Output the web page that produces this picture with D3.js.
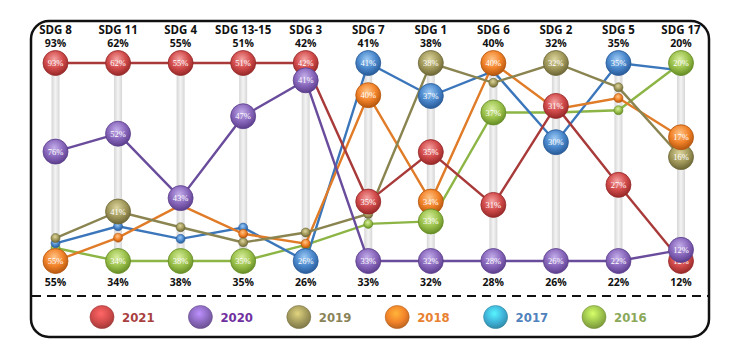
<!DOCTYPE html>
<html>
<head>
<meta charset="utf-8">
<script src="https://cdn.jsdelivr.net/npm/d3@7/dist/d3.min.js"></script>
<style>
  body { margin: 0; background: #fff; }
  svg { display: block; }
  .head { font-family: "Open Sans", sans-serif; font-weight: bold; fill: #111; text-anchor: middle; }
  .val { font-family: "Liberation Serif", serif; fill: #fff; text-anchor: middle; }
  .leg { font-family: "Liberation Sans Narrow", "DejaVu Sans Condensed", sans-serif; font-weight: bold; font-size: 13px; }
</style>
</head>
<body>
<div id="chart"></div>
<script>
var categories = ["SDG 8", "SDG 11", "SDG 4", "SDG 13-15", "SDG 3", "SDG 7", "SDG 1", "SDG 6", "SDG 2", "SDG 5", "SDG 17"];
var years = ["2021", "2020", "2019", "2018", "2017", "2016"];

// share per year and goal (%)
var v2021 = [93, 62, 55, 51, 42, 35.4, 35.3, 31.4, 30.7, 27, 12];
var v2020 = [76, 52, 43.4, 46.7, 40.6, 33, 32, 28, 26, 22, 12.45];
var v2019 = [59.4, 41, 40.9, 36.5, 28.3, 34.9, 38, 38.8, 32, 33.4, 16.2];
var v2018 = [55, 37.3, 42.8, 37.2, 27.4, 39.7, 33.8, 40, 30.6, 32.7, 17];
var v2017 = [58.4, 38.9, 39.9, 37.7, 26, 41, 37, 39.5, 29.6, 35, 19.7];
var v2016 = [57.5, 34, 38, 35, 27.3, 34.5, 33.2, 37, 30.5, 31.9, 20];

// 1 = labelled bubble, 0 = small dot
var lab2021 = [1, 1, 1, 1, 1, 1, 1, 1, 1, 1, 1];
var lab2020 = [1, 1, 1, 1, 1, 1, 1, 1, 1, 1, 1];
var lab2019 = [0, 1, 0, 0, 0, 0, 1, 0, 1, 0, 1];
var lab2018 = [1, 0, 0, 0, 0, 1, 1, 1, 0, 0, 1];
var lab2017 = [0, 0, 0, 0, 1, 1, 1, 0, 1, 1, 0];
var lab2016 = [0, 1, 1, 1, 0, 0, 1, 1, 0, 0, 1];

var W = 744, H = 354,
    TOP = 63, BOTTOM = 261,
    R = 12.5, r = 4.5,
    PCT = function(v) { return d3.format(".0f")(v) + "%"; };

var BASE = ["#d24b4b", "#8a69bd", "#a39a5c", "#f2832a", "#4a88cc", "#9cc24c"],
    EDGE = ["#962828", "#5b3d8c", "#6c6636", "#b4560e", "#285a98", "#658c25"],
    LITE = ["#f5a3a3", "#c4aeea", "#dcd59e", "#ffc68a", "#9fcbf5", "#d8eea0"],
    LINE = ["#a83a3a", "#6a4c9c", "#8a8450", "#e07b28", "#3b76bb", "#8cb545"],
    LEG_FILL = ["#d24b4b", "#8a69bd", "#a39a5c", "#f2832a", "#3fb2d8", "#9cc24c"],
    LEG_TEXT = ["#a84040", "#7030a0", "#8a8358", "#e8802f", "#4f81bd", "#8aa858"];

var values = [v2021, v2020, v2019, v2018, v2017, v2016],
    labels = [lab2021, lab2020, lab2019, lab2018, lab2017, lab2016];

var series = years.map(function(y, i) {
  return {
    year: y, idx: i,
    pts: categories.map(function(c, j) {
      return { cat: c, col: j, v: values[i][j], big: labels[i][j] === 1, idx: i };
    })
  };
});

var x = d3.scalePoint().domain(categories).range([55.5, 681]);

// every goal column has its own scale, min at the bottom, max at the top
var colScale = categories.map(function(c, j) {
  var ext = d3.extent(values, function(s) { return s[j]; });
  return d3.scaleLinear().domain(ext).range([BOTTOM, TOP]);
});
var colExt = categories.map(function(c, j) {
  return d3.extent(values, function(s) { return s[j]; });
});

var svg = d3.select("#chart").append("svg")
  .attr("width", W)
  .attr("height", H);

var defs = svg.append("defs");
years.forEach(function(y, i) {
  var g = defs.append("radialGradient").attr("id", "ball" + i)
    .attr("cx", "45%").attr("cy", "35%").attr("r", "65%");
  g.append("stop").attr("offset", "0%").attr("stop-color", LITE[i]);
  g.append("stop").attr("offset", "55%").attr("stop-color", BASE[i]);
  g.append("stop").attr("offset", "100%").attr("stop-color", EDGE[i]);
  var lg = defs.append("radialGradient").attr("id", "leg" + i)
    .attr("cx", "45%").attr("cy", "35%").attr("r", "65%");
  lg.append("stop").attr("offset", "0%").attr("stop-color", d3.color(LEG_FILL[i]).brighter(0.9));
  lg.append("stop").attr("offset", "60%").attr("stop-color", LEG_FILL[i]);
  lg.append("stop").attr("offset", "100%").attr("stop-color", d3.color(LEG_FILL[i]).darker(0.7));
});
var bar = defs.append("linearGradient").attr("id", "bar");
bar.append("stop").attr("offset", "0%").attr("stop-color", "#d6d6d6");
bar.append("stop").attr("offset", "50%").attr("stop-color", "#f4f4f4");
bar.append("stop").attr("offset", "100%").attr("stop-color", "#d6d6d6");

// frame
svg.append("rect")
  .attr("x", 31).attr("y", 21)
  .attr("width", 678).attr("height", 316)
  .attr("rx", 18)
  .attr("fill", "none")
  .attr("stroke", "#111")
  .attr("stroke-width", 2.5);
svg.append("line")
  .attr("x1", 32).attr("x2", 708)
  .attr("y1", 296).attr("y2", 296)
  .attr("stroke", "#111")
  .attr("stroke-width", 2)
  .attr("stroke-dasharray", "9,6");

// column guides
svg.append("g").selectAll("rect")
  .data(categories)
  .join("rect")
  .attr("x", function(d) { return x(d) - 4; })
  .attr("y", TOP)
  .attr("width", 8)
  .attr("height", BOTTOM - TOP)
  .attr("fill", "url(#bar)");

// headers
var head = svg.append("g");
head.selectAll("text.cat")
  .data(categories)
  .join("text")
  .attr("class", "head cat")
  .attr("x", function(d) { return x(d); })
  .attr("y", 34)
  .attr("font-size", "11.5px")
  .text(function(d) { return d; });
head.selectAll("text.max")
  .data(categories)
  .join("text")
  .attr("class", "head max")
  .attr("x", function(d) { return x(d); })
  .attr("y", 47)
  .attr("font-size", "10.5px")
  .text(function(d, j) { return PCT(colExt[j][1]); });
head.selectAll("text.min")
  .data(categories)
  .join("text")
  .attr("class", "head min")
  .attr("x", function(d) { return x(d); })
  .attr("y", 286)
  .attr("font-size", "10.5px")
  .text(function(d, j) { return PCT(colExt[j][0]); });

// lines
var line = d3.line()
  .x(function(p) { return x(p.cat); })
  .y(function(p) { return colScale[p.col](p.v); });

svg.append("g").selectAll("path")
  .data(series.slice().reverse())
  .join("path")
  .attr("d", function(s) { return line(s.pts); })
  .attr("fill", "none")
  .attr("stroke", function(s) { return LINE[s.idx]; })
  .attr("stroke-width", 2.4);

// small dots
var allPts = d3.merge(series.slice().reverse().map(function(s) { return s.pts; }));
svg.append("g").selectAll("circle")
  .data(allPts.filter(function(p) { return !p.big; }))
  .join("circle")
  .attr("cx", function(p) { return x(p.cat); })
  .attr("cy", function(p) { return colScale[p.col](p.v); })
  .attr("r", r)
  .attr("fill", function(p) { return "url(#ball" + p.idx + ")"; })
  .attr("stroke", function(p) { return EDGE[p.idx]; })
  .attr("stroke-width", 0.6);

// labelled bubbles
var bigPts = d3.merge(series.map(function(s) { return s.pts; })).filter(function(p) { return p.big; });
var bubble = svg.append("g").selectAll("g")
  .data(bigPts)
  .join("g")
  .attr("transform", function(p) { return "translate(" + x(p.cat) + "," + colScale[p.col](p.v) + ")"; });
bubble.append("circle")
  .attr("r", R)
  .attr("fill", function(p) { return "url(#ball" + p.idx + ")"; })
  .attr("stroke", function(p) { return EDGE[p.idx]; })
  .attr("stroke-width", 0.8);
bubble.append("text")
  .attr("class", "val")
  .attr("y", 3)
  .attr("font-size", "8.5px")
  .text(function(p) { return PCT(p.v); });

// legend
var leg = svg.append("g").selectAll("g")
  .data(years)
  .join("g")
  .attr("transform", function(d, i) { return "translate(" + (102 + i * 98.4) + ",317)"; });
leg.append("ellipse")
  .attr("rx", 12)
  .attr("ry", 11.5)
  .attr("fill", function(d, i) { return "url(#leg" + i + ")"; })
  .attr("stroke", function(d, i) { return d3.color(LEG_FILL[i]).darker(0.8); })
  .attr("stroke-width", 0.6);
leg.append("text")
  .attr("class", "leg")
  .attr("x", 20)
  .attr("y", 5)
  .attr("fill", function(d, i) { return LEG_TEXT[i]; })
  .text(function(d) { return d; });
</script>
</body>
</html>
